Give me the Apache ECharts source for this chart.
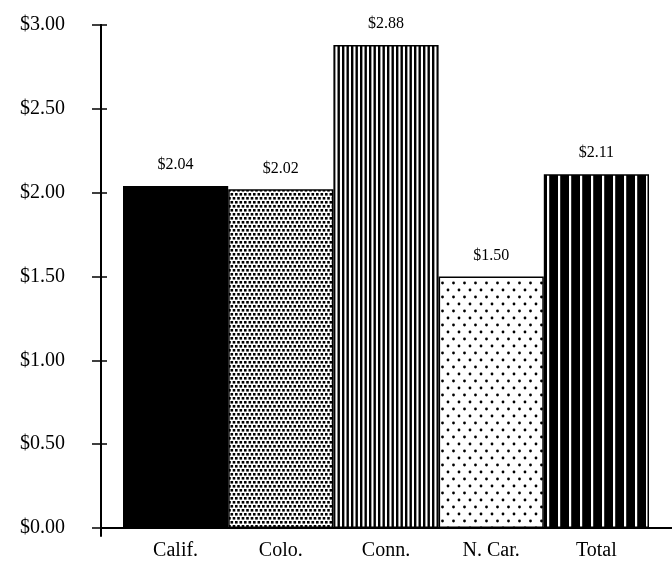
<!DOCTYPE html>
<html>
<head>
<meta charset="utf-8">
<script src="https://cdn.jsdelivr.net/npm/echarts@6/dist/echarts.min.js"></script>
<style>
  html, body { margin: 0; padding: 0; background: #fff; }
  #chart { width: 672px; height: 570px; }
</style>
</head>
<body>
<div id="chart"></div>
<script>
// Average amount per state, with the overall total
const categories = ['Calif.', 'Colo.', 'Conn.', 'N. Car.', 'Total'];
const values = [2.04, 2.02, 2.88, 1.50, 2.11];
const yTicks = [0, 0.5, 1, 1.5, 2, 2.5, 3];
const FONT = '"Liberation Serif", "Times New Roman", serif';

// --- Fill patterns drawn on small tiles ---
function tile(w, h, draw) {
  const c = document.createElement('canvas');
  c.width = w; c.height = h;
  const g = c.getContext('2d');
  g.fillStyle = '#fff';
  g.fillRect(0, 0, w, h);
  g.fillStyle = '#000';
  draw(g);
  return { image: c, repeat: 'repeat' };
}
const solidBlack = '#000';
const denseDots = tile(9, 8, g => {
  g.fillRect(1, 1, 2.6, 2.6);
  g.fillRect(5.5, 1, 2.6, 2.6);
  g.fillRect(3.2, 5, 2.6, 2.6);
  g.fillRect(7.7, 5, 2.6, 2.6);
  g.fillRect(-1.3, 5, 2.6, 2.6);
});
const fineStripes = tile(9, 4, g => { g.fillRect(0, 0, 2.4, 4); g.fillRect(4.5, 0, 2.4, 4); });
const sparseDots = tile(11, 14, g => {
  g.beginPath(); g.arc(2.5, 3, 1.4, 0, Math.PI * 2); g.fill();
  g.beginPath(); g.arc(8, 10, 1.4, 0, Math.PI * 2); g.fill();
});
const blackWithLines = tile(11, 4, g => {
  g.fillRect(0, 0, 11, 4);
  g.fillStyle = '#fff';
  g.fillRect(8, 0, 2.2, 4);
});
const fills = [solidBlack, denseDots, fineStripes, sparseDots, blackWithLines];

const fmt = v => '$' + v.toFixed(2);
const axisLineStyle = { color: '#000', width: 2 };
const tickStyle = { color: '#000', width: 1.5 };

const chart = echarts.init(document.getElementById('chart'), null, { renderer: 'canvas' });
chart.setOption({
  backgroundColor: '#fff',
  animation: false,
  grid: [
    // axis frame (lines, outer ticks, labels)
    { left: 101, right: 0, top: 25, bottom: 42 },
    // bar area
    { left: 123, right: 23, top: 25, bottom: 42 },
    // vertical axis line running a little past the baseline
    { left: 101, right: 0, top: 25, bottom: 34 }
  ],
  xAxis: [
    {
      gridIndex: 0, type: 'value', min: 0, max: 1,
      axisLine: { show: true, lineStyle: axisLineStyle },
      axisTick: { show: false }, axisLabel: { show: false }, splitLine: { show: false }
    },
    {
      gridIndex: 1, type: 'category', data: categories,
      axisLine: { show: false }, axisTick: { show: false }, splitLine: { show: false },
      axisLabel: { color: '#000', fontFamily: FONT, fontSize: 20, margin: 13 }
    },
    {
      gridIndex: 2, type: 'value', min: 0, max: 1, show: false
    }
  ],
  yAxis: [
    {
      gridIndex: 0, type: 'value', min: 0, max: 3, interval: 0.5,
      axisLine: { show: true, lineStyle: axisLineStyle },
      axisTick: { show: true, inside: false, length: 9, lineStyle: tickStyle },
      splitLine: { show: false },
      axisLabel: {
        color: '#000', fontFamily: FONT, fontSize: 20, margin: 36,
        formatter: v => yTicks.includes(v) ? fmt(v) : ''
      }
    },
    {
      // inner half of the crossing ticks, pulled back onto the frame axis
      gridIndex: 1, type: 'value', min: 0, max: 3, interval: 0.5,
      offset: 16,
      axisLine: { show: false },
      axisTick: { show: true, inside: false, length: 7, lineStyle: tickStyle },
      axisLabel: { show: false }, splitLine: { show: false }
    },
    {
      gridIndex: 2, type: 'value', min: 0, max: 1,
      axisLine: { show: true, lineStyle: axisLineStyle },
      axisTick: { show: false }, axisLabel: { show: false }, splitLine: { show: false }
    }
  ],
  series: [{
    type: 'bar',
    xAxisIndex: 1, yAxisIndex: 1,
    barWidth: '100%',
    barCategoryGap: 0,
    data: values.map((v, i) => ({
      value: v,
      itemStyle: { color: fills[i], borderColor: '#000', borderWidth: 1.5 }
    })),
    label: {
      show: true, position: 'top', distance: 13,
      color: '#000', fontFamily: FONT, fontSize: 16,
      formatter: p => fmt(p.value)
    }
  }]
});
</script>
</body>
</html>
